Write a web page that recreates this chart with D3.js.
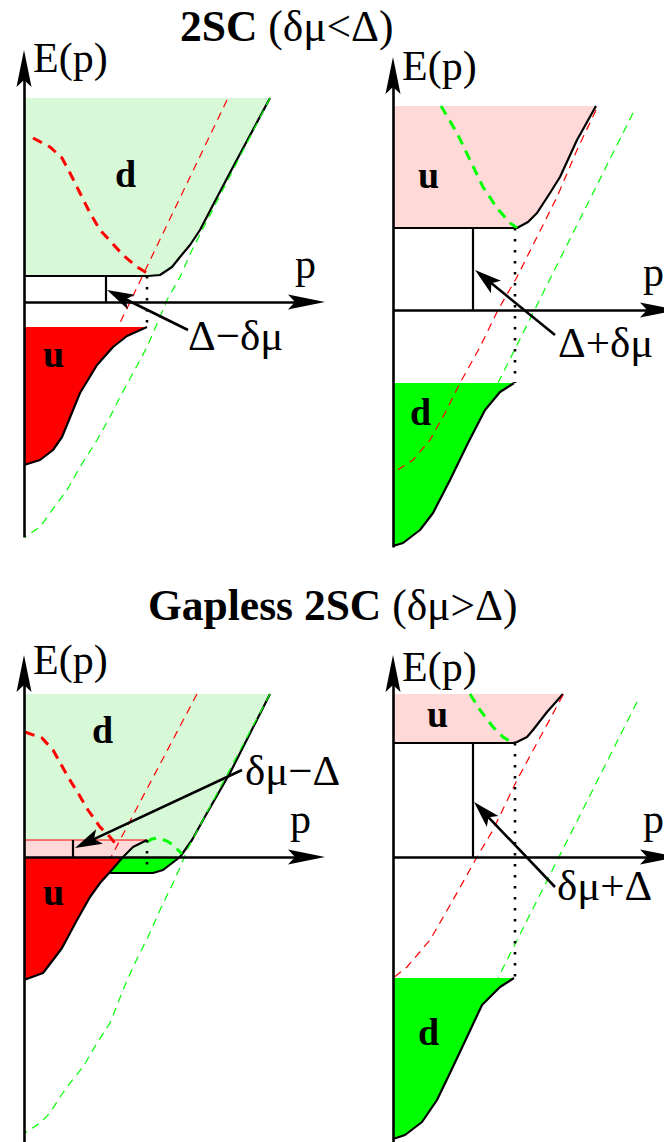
<!DOCTYPE html>
<html>
<head>
<meta charset="utf-8">
<script src="https://cdn.jsdelivr.net/npm/d3@7"></script>
<style>
  body { margin: 0; background: #fff; }
  svg { display: block; font-family: "Liberation Serif", "Times New Roman", serif; }
</style>
</head>
<body>
<div id="chart"></div>
<script>
// Quasiparticle spectra in 2SC and gapless 2SC (schematic E(p) vs p)
const width = 664, height = 1142;
const unit = 10; // px per data unit, both axes

// titles
const titleBold = ["2SC", "Gapless 2SC"];
const titleRest = [" (δμ<Δ)", " (δμ>Δ)"];

// ---- panel A : 2SC, d band / u band
const aDTop = 20.4;
const aDEdge = [[24.6,20.4],[20.9,13.5],[18.9,9.7],[17.6,7.2],[16.6,5.7],[15.6,4.5],[14.8,3.5],[13.6,2.7],[12.4,2.6]];
const aUTop = -2.5;
const aUEdge = [[12.3,-2.5],[10.3,-3.4],[8.9,-4.5],[7.3,-6.3],[5.6,-9.1],[3.8,-13.5],[2.9,-14.8],[1.6,-15.8],[0,-16.3]];
const aRedThin = [[20.3,20.2],[9.4,-2.5]];
const aRedThick = [[0.9,16.4],[2.6,15.5],[3.8,14.4],[4.6,12.9],[5.6,10.9],[6.6,8.9],[7.6,7.2],[8.8,5.9],[9.9,4.7],[11.3,3.5],[12.6,2.7]];
const aGreenThin = [[24.6,20.4],[16.8,5.2],[15.6,2.5],[14.3,0.2],[13.6,-1.5],[12.3,-4.5],[10.9,-7.1],[9.6,-9.5],[8.6,-11.5],[7.3,-13.8],[5.6,-16.5],[4.3,-18.8],[2.6,-21.1],[1.6,-22.5],[0.1,-23.5]];

// ---- panel B : 2SC, u band / d band
const bUTop = 20.4;
const bUEdge = [[20.3,20.4],[18.4,17.0],[16.7,13.3],[15.7,11.7],[14.4,9.7],[13.5,8.8],[12.4,8.2]];
const bDTop = -7.3;
const bDEdge = [[12.1,-7.3],[10.7,-8.2],[9.2,-10.0],[7.5,-13.3],[5.7,-17.0],[4.0,-20.3],[2.7,-22.0],[1.0,-23.3],[0,-23.6]];
const bRedThin = [[20.3,20.0],[18.4,16.0],[16.4,11.3],[14.4,7.3],[12.4,3.3],[10.5,0],[8.7,-3.7],[6.7,-7.3],[5.2,-10.3],[3.7,-13.0],[2.0,-15.0],[0,-16.3]];
const bGreenThin = [[24.0,19.7],[10.5,-7.3]];
const bGreenThick = [[4.8,20.4],[6.4,17.7],[7.7,15.0],[9.0,12.3],[10.4,10.2],[11.7,8.7],[12.4,8.2]];

// ---- panel C : gapless 2SC, d band / u band
const cDTop = 16.3;
const cDEdge = [[24.6,16.3],[20.6,8.4],[18.3,4.4],[16.8,1.7],[15.6,0],[13.9,-1.3],[12.9,-1.6],[8.6,-1.6]];
const cUTop = 1.7;
const cUEdge = [[12.3,1.7],[10.9,1.0],[9.9,0],[8.6,-1.5],[7.6,-2.6],[6.6,-4.0],[5.3,-6.3],[3.8,-9.1],[2.9,-10.3],[1.9,-11.6],[0,-12.3]];
const cRedThin = [[17.3,16.3],[8.6,-0.2]];
const cRedThick = [[0.1,12.5],[1.8,11.9],[2.9,10.7],[4.4,8.0],[5.4,6.4],[6.4,4.7],[7.6,3.0],[8.6,2.0],[9.4,1.0]];
const cGreenThin = [[24.6,16.3],[16.3,0.7],[15.8,-0.6],[14.9,-2.6],[13.6,-5.3],[12.4,-8.0],[10.9,-11.0],[9.9,-13.3],[8.6,-16.6],[7.3,-18.6],[5.9,-21.0],[4.6,-22.6],[3.6,-24.0],[2.6,-25.6],[1.6,-26.6],[0.1,-27.6]];
const cGreenThick = [[12.3,1.5],[12.8,1.8],[13.4,1.9],[14.3,1.6],[14.9,1.2],[15.4,0.7],[15.8,0.3]];

// ---- panel D : gapless 2SC, u band / d band
const dUTop = 16.3;
const dUEdge = [[17.0,16.3],[15.4,14.5],[14.0,12.7],[13.4,12.0],[12.4,11.5],[12.0,11.4]];
const dDTop = -12.1;
const dDEdge = [[12.1,-12.1],[10.7,-13.0],[8.9,-14.8],[7.4,-18.0],[5.7,-21.6],[4.4,-24.3],[2.9,-26.5],[1.2,-27.8],[0,-28.2]];
const dRedThin = [[17.0,16.2],[12.4,7.7],[10.0,2.7],[8.4,0],[6.0,-4.3],[3.7,-8.3],[1.4,-11.0],[0,-12.1]];
const dGreenThin = [[24.4,15.5],[10.5,-12.1]];
const dGreenThick = [[7.7,16.3],[8.7,14.7],[10.0,13.0],[11.0,12.0],[12.0,11.4]];

// gap marks, dotted lines, labels (order A,B,C,D)
const gapP = [8.2, 8.0, 4.9, 8.0];
const gapTop = [2.6, 8.2, 1.7, 11.4];
const dotP = [12.3, 12.2, 12.3, 12.2];
const dotSpan = [[2.6,-2.5],[8.2,-7.3],[1.7,-1.0],[11.4,-12.1]];
const gapText = ["Δ−δμ", "Δ+δμ", "δμ−Δ", "δμ+Δ"];
const gapTextAt = [[16.4,-4.8],[16.5,-4.7],[22.1,7.2],[16.4,-4.3]];
const gapArrowFrom = [[16.4,-2.8],[16.2,-2.5],[21.8,8.7],[16.2,-3.0]];
const gapArrowTo = [[8.3,1.2],[8.2,4.0],[5.1,0.9],[8.1,5.5]];
const bandLabels = [
  [["d",9.1,11.5],["u",1.9,-6.5]],
  [["u",2.5,12.2],["d",1.7,-11.5]],
  [["d",6.8,11.4],["u",1.9,-4.8]],
  [["u",3.4,13.0],["d",2.5,-18.8]]
];
const eLabelAt = [23.0, 23.0, 18.3, 17.6];
const pLabelAt = [27.1, 25.0, 26.6, 25.0];

const lightGreen = "#d8f9d8", pink = "#ffd8d8", red = "#ff0000", green = "#00ff00";

// page layout of the four panels (axis origin in px)
const layout = [
  {x0: 24,  y0: 302, pMax: 30.1, eMin: -23.5, eMax: 25.2},
  {x0: 393, y0: 310, pMax: 28.4, eMin: -23.7, eMax: 25.3},
  {x0: 24,  y0: 857, pMax: 30.1, eMin: -28.5, eMax: 20.2},
  {x0: 393, y0: 857, pMax: 28.4, eMin: -28.5, eMax: 20.2}
];

const pos = arr => arr.filter(d => d[1] >= 0);
const neg = arr => arr.filter(d => d[1] <= 0);
const last = arr => arr[arr.length - 1];

const panels = [
  {
    fills: [
      {pts: [[0,aDTop], ...aDEdge, [0,last(aDEdge)[1]]], color: lightGreen},
      {pts: [[0,aUTop], ...aUEdge], color: red}
    ],
    outlines: [[...aDEdge, [0,last(aDEdge)[1]]], aUEdge],
    thin: [[aRedThin, red], [aGreenThin, green]],
    thick: [[aRedThick, red]],
    extra: []
  },
  {
    fills: [
      {pts: [[0,bUTop], ...bUEdge, [0,last(bUEdge)[1]]], color: pink},
      {pts: [[0,bDTop], ...bDEdge], color: green}
    ],
    outlines: [[...bUEdge, [0,last(bUEdge)[1]]], bDEdge],
    thin: [[bRedThin, red], [bGreenThin, green]],
    thick: [[bGreenThick, green]],
    extra: []
  },
  {
    fills: [
      {pts: [[0,cDTop], ...pos(cDEdge), [0,0]], color: lightGreen},
      {pts: [[0,cUTop], ...pos(cUEdge), [0,0]], color: pink},
      {pts: [...neg(cDEdge), [9.9,0]], color: green},
      {pts: [[0,0], ...neg(cUEdge)], color: red}
    ],
    outlines: [cDEdge, cUEdge],
    thin: [[cRedThin, red], [cGreenThin, green]],
    thick: [[cRedThick, red], [cGreenThick, green]],
    extra: [[[0,cUTop],[cUEdge[0][0],cUTop]]]
  },
  {
    fills: [
      {pts: [[0,dUTop], ...dUEdge, [0,last(dUEdge)[1]]], color: pink},
      {pts: [[0,dDTop], ...dDEdge], color: green}
    ],
    outlines: [[...dUEdge, [0,last(dUEdge)[1]]], dDEdge],
    thin: [[dRedThin, red], [dGreenThin, green]],
    thick: [[dGreenThick, green]],
    extra: []
  }
];

const svg = d3.select("#chart").append("svg")
  .attr("width", width)
  .attr("height", height);

// filled arrowhead with a notch, tip at `tip`, pointing away from `from`
function arrowHead(g, tip, from, len, half, notch) {
  const dx = tip[0] - from[0], dy = tip[1] - from[1];
  const L = Math.hypot(dx, dy);
  const ux = dx / L, uy = dy / L, px = -uy, py = ux;
  const bx = tip[0] - ux * len, by = tip[1] - uy * len;
  const nx = tip[0] - ux * (len - notch), ny = tip[1] - uy * (len - notch);
  g.append("path")
    .attr("d", `M${tip[0]},${tip[1]}L${bx + px * half},${by + py * half}L${nx},${ny}L${bx - px * half},${by - py * half}Z`)
    .attr("fill", "#000");
}

function drawPanel(P, L, i) {
  const x = d3.scaleLinear().domain([0, L.pMax]).range([L.x0, L.x0 + L.pMax * unit]);
  const y = d3.scaleLinear().domain([L.eMin, L.eMax]).range([L.y0 - L.eMin * unit, L.y0 - L.eMax * unit]);
  const line = d3.line().x(d => x(d[0])).y(d => y(d[1]));
  const g = svg.append("g");

  // bands
  P.fills.forEach(f => {
    g.append("path").attr("d", line(f.pts) + "Z").attr("fill", f.color);
  });
  P.extra.forEach(e => {
    g.append("path").attr("d", line(e)).attr("fill", "none")
      .attr("stroke", red).attr("stroke-width", 1);
  });

  // band edges
  P.outlines.forEach(o => {
    g.append("path").attr("d", line(o)).attr("fill", "none")
      .attr("stroke", "#000").attr("stroke-width", 2.2).attr("stroke-linejoin", "round");
  });

  // free dispersions (thin) and hole branches (thick)
  P.thin.forEach(([pts, c]) => {
    g.append("path").attr("d", line(pts)).attr("fill", "none")
      .attr("stroke", c).attr("stroke-width", 1.2).attr("stroke-dasharray", "8,6");
  });
  P.thick.forEach(([pts, c]) => {
    g.append("path").attr("d", line(pts)).attr("fill", "none")
      .attr("stroke", c).attr("stroke-width", 3).attr("stroke-dasharray", "10,7");
  });

  // dotted line at the band edge
  g.append("line")
    .attr("x1", x(dotP[i])).attr("x2", x(dotP[i]))
    .attr("y1", y(dotSpan[i][0])).attr("y2", y(dotSpan[i][1]))
    .attr("stroke", "#000").attr("stroke-width", 2.6).attr("stroke-dasharray", "2.6,8.4");

  // gap marker
  g.append("line")
    .attr("x1", x(gapP[i])).attr("x2", x(gapP[i]))
    .attr("y1", y(0)).attr("y2", y(gapTop[i]))
    .attr("stroke", "#000").attr("stroke-width", 2.2);

  // axes
  const xs = x.copy().domain([0, L.pMax - 2]).range([x(0), x(L.pMax - 2)]);
  const ys = y.copy().domain([L.eMin, L.eMax - 2]).range([y(L.eMin), y(L.eMax - 2)]);
  g.append("g").attr("transform", `translate(0,${y(0)})`)
    .call(d3.axisBottom(xs).tickValues([]).tickSizeOuter(0))
    .call(a => a.select(".domain").attr("stroke-width", 2.6));
  g.append("g").attr("transform", `translate(${x(0)},0)`)
    .call(d3.axisLeft(ys).tickValues([]).tickSizeOuter(0))
    .call(a => a.select(".domain").attr("stroke-width", 2.6));
  arrowHead(g, [x(L.pMax), y(0)], [x(0), y(0)], 37, 7.5, 7);
  arrowHead(g, [x(0), y(L.eMax)], [x(0), y(0)], 37, 7.5, 7);

  g.append("text").attr("x", x(0.9)).attr("y", y(eLabelAt[i]))
    .attr("font-size", 42).text("E(p)");
  g.append("text").attr("x", x(pLabelAt[i])).attr("y", y(2.4))
    .attr("font-size", 42).text("p");

  bandLabels[i].forEach(([t, p, e]) => {
    g.append("text").attr("x", x(p)).attr("y", y(e))
      .attr("font-size", 38).attr("font-weight", "bold").text(t);
  });

  // gap annotation
  const from = [x(gapArrowFrom[i][0]), y(gapArrowFrom[i][1])];
  const to = [x(gapArrowTo[i][0]), y(gapArrowTo[i][1])];
  const dx = to[0] - from[0], dy = to[1] - from[1], dl = Math.hypot(dx, dy);
  g.append("line")
    .attr("x1", from[0]).attr("y1", from[1])
    .attr("x2", to[0] - dx / dl * 18).attr("y2", to[1] - dy / dl * 18)
    .attr("stroke", "#000").attr("stroke-width", 2.6);
  arrowHead(g, to, from, 27, 8, 6);
  g.append("text").attr("x", x(gapTextAt[i][0])).attr("y", y(gapTextAt[i][1]))
    .attr("font-size", 43).text(gapText[i]);
}

panels.forEach((P, i) => drawPanel(P, layout[i], i));

// titles
const titleAt = [[180, 41], [148, 620]];
titleBold.forEach((t, i) => {
  const tx = svg.append("text")
    .attr("x", titleAt[i][0]).attr("y", titleAt[i][1])
    .attr("font-size", 43.5);
  tx.append("tspan").attr("font-weight", "bold").text(t);
  tx.append("tspan").text(titleRest[i]);
});
</script>
</body>
</html>
